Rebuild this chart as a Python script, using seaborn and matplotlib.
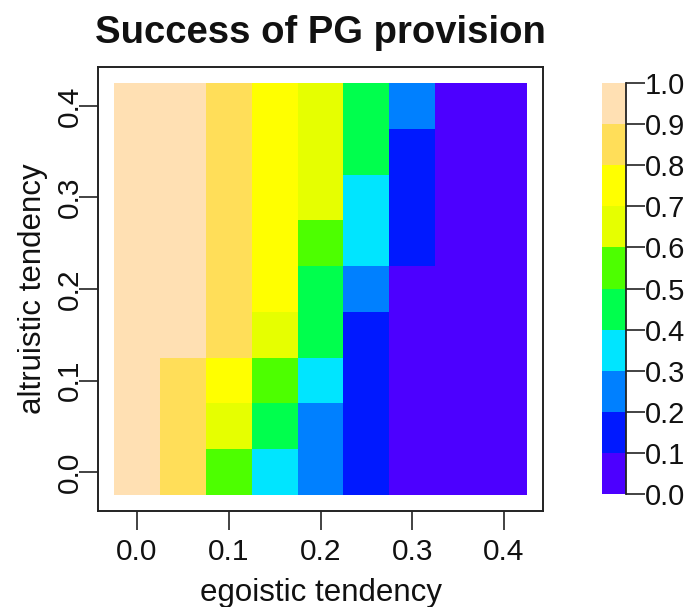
import numpy as np
import pandas as pd
import matplotlib
matplotlib.use("Agg")
import matplotlib.pyplot as plt
import seaborn as sns
from matplotlib.colors import ListedColormap

# ---- data ----
egoistic = [0.0, 0.05, 0.1, 0.15, 0.2, 0.25, 0.3, 0.35, 0.4]
altruistic = [0.0, 0.05, 0.1, 0.15, 0.2, 0.25, 0.3, 0.35, 0.4]
# success by row (altruistic tendency), columns = egoistic tendency
alt_00 = [0.97, 0.86, 0.55, 0.35, 0.25, 0.15, 0.05, 0.03, 0.02]
alt_05 = [0.97, 0.87, 0.65, 0.45, 0.25, 0.15, 0.05, 0.03, 0.02]
alt_10 = [0.98, 0.88, 0.75, 0.55, 0.35, 0.15, 0.05, 0.03, 0.02]
alt_15 = [0.98, 0.92, 0.85, 0.65, 0.45, 0.15, 0.05, 0.03, 0.02]
alt_20 = [0.98, 0.93, 0.86, 0.75, 0.45, 0.25, 0.08, 0.03, 0.02]
alt_25 = [0.99, 0.94, 0.87, 0.76, 0.55, 0.35, 0.15, 0.04, 0.02]
alt_30 = [0.99, 0.95, 0.87, 0.77, 0.65, 0.35, 0.15, 0.05, 0.02]
alt_35 = [0.99, 0.95, 0.88, 0.78, 0.66, 0.45, 0.15, 0.05, 0.03]
alt_40 = [0.99, 0.96, 0.88, 0.78, 0.67, 0.45, 0.25, 0.06, 0.03]
level_colors = ["#4C00FF", "#0019FF", "#0080FF", "#00E5FF", "#00FF4D",
                "#4DFF00", "#E6FF00", "#FFFF00", "#FFDE59", "#FFE0B3"]
cbar_ticks = [0.0, 0.1, 0.2, 0.3, 0.4, 0.5, 0.6, 0.7, 0.8, 0.9, 1.0]
axis_ticks = [0.0, 0.1, 0.2, 0.3, 0.4]

rows = [alt_00, alt_05, alt_10, alt_15, alt_20, alt_25, alt_30, alt_35, alt_40]
df = pd.DataFrame(rows, index=altruistic, columns=egoistic)
df = df.iloc[::-1]  # top row = highest altruistic tendency

plt.rcParams['font.family'] = ['Liberation Sans', 'DejaVu Sans']
TXT = '#111111'
LINE = '#222222'

fig = plt.figure(figsize=(6.91, 6.07), dpi=100)
W, H = 691, 607
ax = fig.add_axes([98 / W, 1 - 511 / H, 445 / W, 444 / H])
cax = fig.add_axes([602 / W, 1 - 494 / H, 24 / W, 411 / H])

cmap = ListedColormap(level_colors)
sns.heatmap(df, ax=ax, cmap=cmap, vmin=0, vmax=1, cbar_ax=cax,
            cbar_kws={'ticks': cbar_ticks})

n = len(egoistic)
step = egoistic[1] - egoistic[0]
m = 0.349
ax.set_xlim(-m, n + m)
ax.set_ylim(n + m, -m)

# positions of ticks in heatmap cell coordinates
xt = [(v - egoistic[0]) / step + 0.5 for v in axis_ticks]
yt = [(altruistic[-1] - v) / step + 0.5 for v in axis_ticks]
ax.set_xticks(xt)
ax.set_xticklabels([f"{v:.1f}" for v in axis_ticks], rotation=0)
ax.set_yticks(yt)
ax.set_yticklabels([f"{v:.1f}" for v in axis_ticks], rotation=90, va='center')

for s in ax.spines.values():
    s.set_visible(True)
    s.set_linewidth(1.4)
    s.set_color(LINE)

ax.tick_params(axis='x', length=13.5, width=1.2, pad=5.8, labelsize=21.5,
               colors=LINE, labelcolor=TXT)
ax.tick_params(axis='y', length=13.5, width=1.2, pad=-3, labelsize=21.5,
               colors=LINE, labelcolor=TXT)

ax.set_xlabel('egoistic tendency', fontsize=22.5, color=TXT, labelpad=8.5)
ax.set_ylabel('altruistic tendency', fontsize=22.5, color=TXT, labelpad=5)
ax.set_title('Success of PG provision', fontsize=27.5, fontweight='bold',
             color=TXT, pad=17)

cb = ax.collections[0].colorbar
cb.outline.set_visible(False)
cax.axvline(1.0, color=LINE, lw=1.3, clip_on=False)
cax.tick_params(axis='y', right=True, length=13.5, width=1.2, pad=0,
                labelsize=21, colors=LINE, labelcolor=TXT)
cb.set_ticklabels([f"{v:.1f}" for v in cbar_ticks])

fig.savefig('out.png', dpi=100)
